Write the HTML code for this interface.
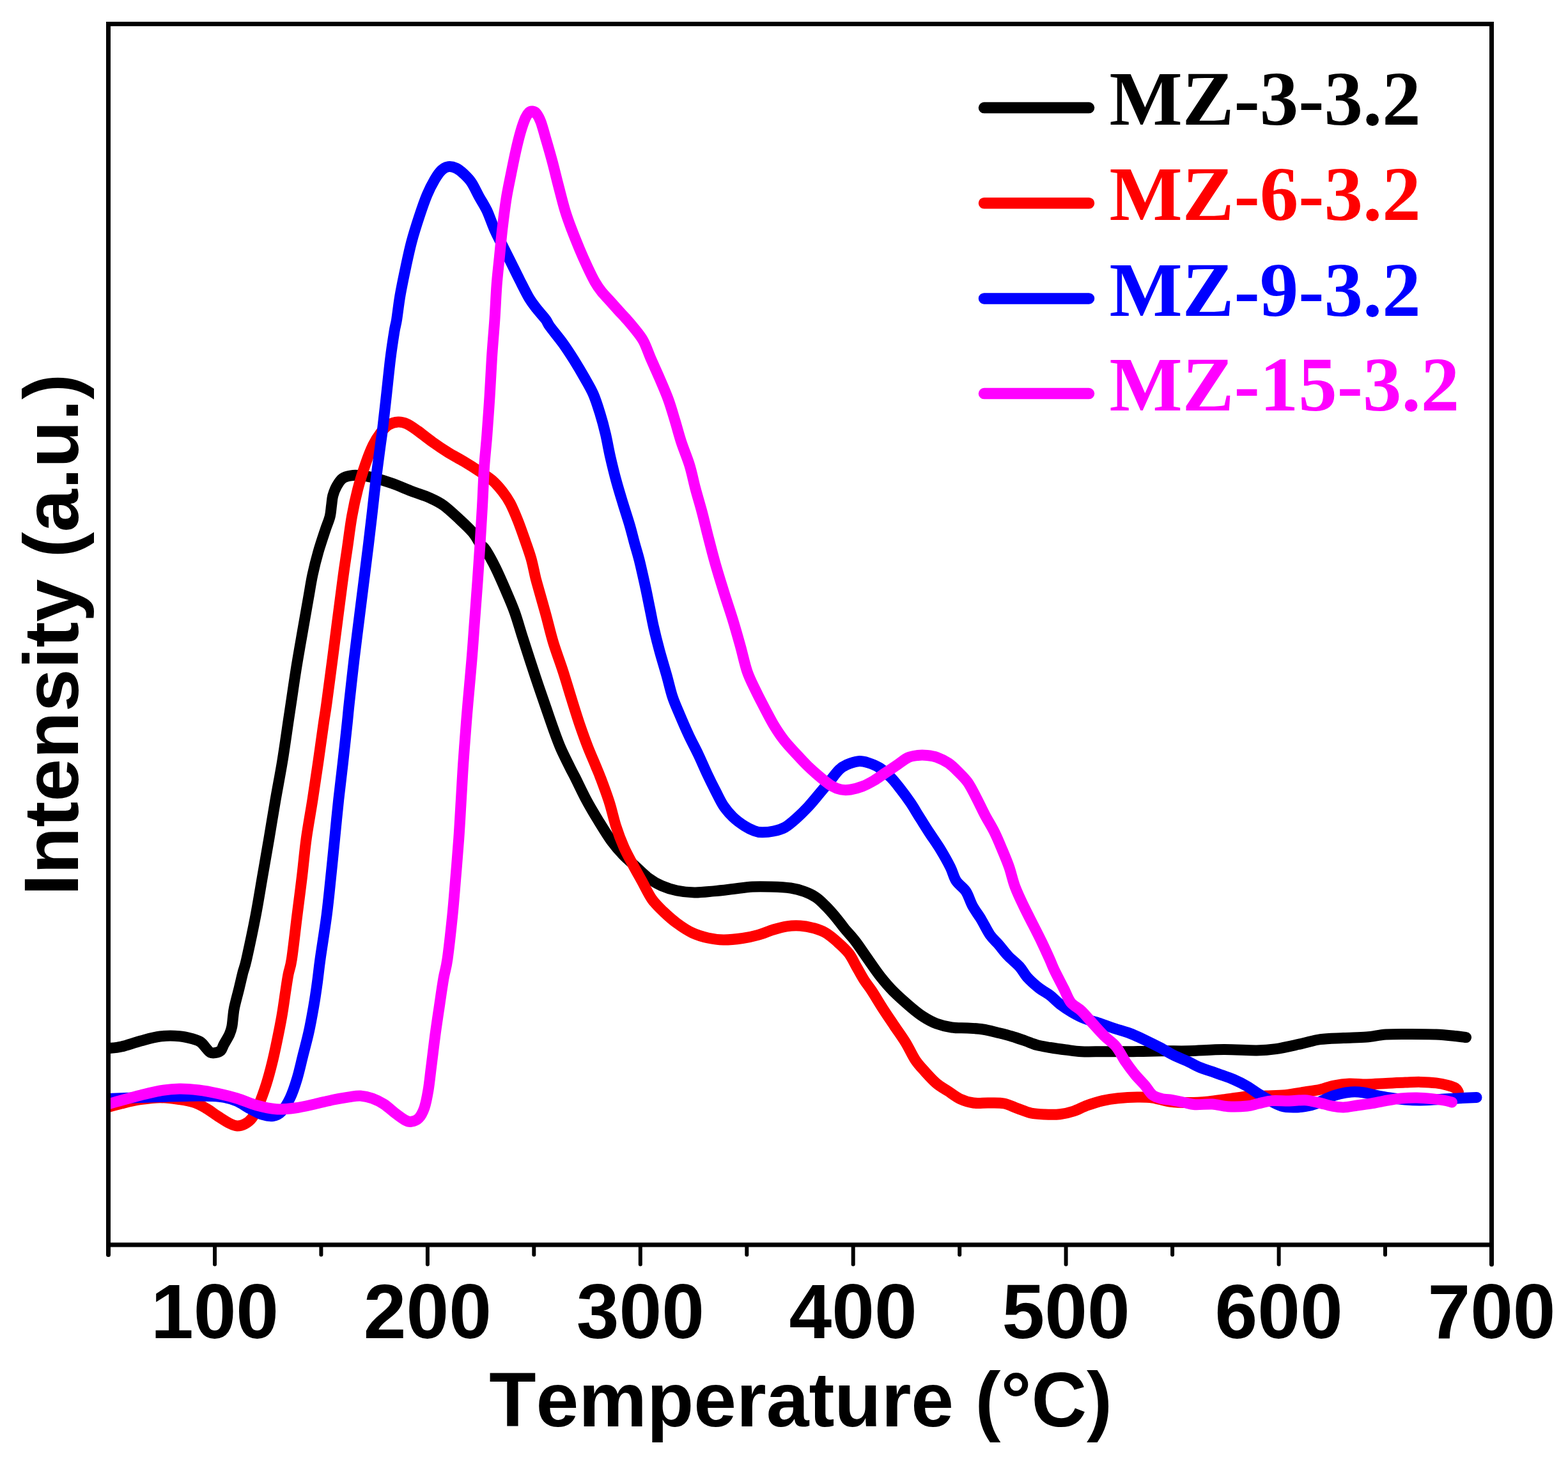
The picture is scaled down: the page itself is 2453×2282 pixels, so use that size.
<!DOCTYPE html>
<html lang="en">
<head>
<meta charset="utf-8">
<title>Intensity vs Temperature</title>
<style>
html,body{margin:0;padding:0;background:#fff;}
body{width:2453px;height:2282px;overflow:hidden;}
svg{display:block;}
.sans{font-family:"Liberation Sans",Arial,Helvetica,sans-serif;font-weight:bold;fill:#000;font-kerning:none;}
.serif{font-family:"Liberation Serif","Times New Roman",Times,serif;font-weight:bold;font-kerning:none;}
.curve{fill:none;stroke-width:17;stroke-linecap:round;stroke-linejoin:round;}
</style>
</head>
<body>
<svg width="2453" height="2282" viewBox="0 0 2453 2282">
<rect x="0" y="0" width="2453" height="2282" fill="#fff"/>
<defs><clipPath id="plot"><rect x="169.5" y="37.5" width="2164" height="1909.5"/></clipPath></defs>
<g class="curves" clip-path="url(#plot)">
<path class="curve" stroke="#000000" d="M169.0 1639.7C172.5 1639.2 181.4 1639.0 190.0 1637.0C198.6 1635.0 210.3 1630.7 220.4 1628.0C230.5 1625.3 240.4 1622.2 250.5 1621.0C260.6 1619.8 272.1 1620.0 280.7 1620.7C289.3 1621.4 296.3 1623.5 301.9 1625.0C307.4 1626.5 310.5 1627.5 314.0 1630.0C317.5 1632.5 320.5 1637.3 323.0 1640.0C325.5 1642.7 326.7 1644.9 329.0 1646.0C331.3 1647.1 333.8 1647.2 336.6 1646.7C339.4 1646.2 343.4 1645.1 345.6 1643.0C347.8 1640.9 347.8 1638.2 350.0 1634.0C352.2 1629.8 356.9 1622.4 359.0 1617.7C361.1 1613.0 361.9 1610.1 362.8 1605.6C363.7 1601.1 364.0 1595.5 364.6 1590.5C365.2 1585.5 365.1 1583.1 366.7 1575.5C368.3 1567.9 372.1 1554.1 374.3 1545.0C376.5 1535.9 378.1 1528.5 380.0 1521.0C381.9 1513.5 382.5 1514.8 385.8 1500.0C389.1 1485.2 395.9 1453.4 400.0 1432.0C404.1 1410.6 407.0 1391.8 410.5 1371.6C414.0 1351.4 417.6 1331.1 421.0 1311.0C424.4 1290.9 427.5 1271.1 431.0 1251.0C434.5 1230.9 438.5 1210.7 441.8 1190.5C445.1 1170.3 448.6 1145.1 450.8 1130.0C453.1 1114.9 453.2 1113.8 455.3 1100.0C457.4 1086.2 460.2 1065.9 463.2 1047.0C466.2 1028.1 470.3 1005.3 473.5 986.7C476.7 968.1 479.9 950.0 482.5 935.4C485.1 920.8 486.4 911.1 489.0 899.0C491.6 886.9 494.7 874.5 498.0 863.0C501.3 851.5 505.6 838.9 508.6 829.8C511.6 820.7 514.3 815.1 516.0 808.6C517.7 802.1 517.8 796.0 518.6 790.5C519.4 785.0 519.4 780.5 520.7 775.5C522.1 770.5 524.2 764.9 526.7 760.4C529.2 755.9 532.0 751.1 535.8 748.3C539.6 745.5 544.5 744.5 549.3 743.8C554.1 743.0 558.9 743.3 564.4 743.8C569.9 744.3 574.5 744.8 582.5 746.8C590.5 748.8 602.6 752.3 612.7 755.8C622.8 759.3 632.9 764.0 642.9 767.9C652.9 771.8 664.5 775.2 673.0 779.0C681.5 782.8 686.5 785.0 694.0 790.5C701.5 796.0 710.7 804.7 718.3 811.7C725.9 818.8 734.0 826.2 739.5 832.8C745.0 839.3 748.1 846.4 751.5 851.0C754.9 855.6 756.1 854.3 760.0 860.4C763.9 866.5 770.0 877.5 775.0 887.5C780.0 897.5 785.0 909.1 790.0 920.7C795.0 932.3 800.5 944.5 805.0 957.0C809.5 969.5 813.1 982.9 817.3 996.0C821.5 1009.1 825.9 1022.8 830.0 1035.4C834.1 1048.0 837.9 1059.5 842.0 1071.6C846.1 1083.7 850.5 1096.3 854.5 1107.9C858.5 1119.5 862.2 1130.5 866.0 1141.0C869.8 1151.5 873.2 1161.2 877.5 1171.0C881.8 1180.8 887.8 1192.4 891.5 1200.0C895.2 1207.6 895.6 1207.6 900.0 1216.4C904.4 1225.2 911.8 1241.0 918.0 1252.6C924.2 1264.2 931.0 1275.2 937.5 1285.8C944.0 1296.4 950.8 1307.5 957.0 1316.0C963.2 1324.5 968.7 1330.7 974.7 1337.0C980.7 1343.3 986.2 1347.7 992.8 1353.7C999.3 1359.7 1007.0 1367.7 1014.0 1373.0C1021.0 1378.3 1027.5 1382.1 1035.0 1385.4C1042.5 1388.7 1050.4 1391.2 1059.0 1393.0C1067.6 1394.8 1076.8 1395.8 1086.4 1396.0C1096.0 1396.2 1106.5 1394.8 1116.5 1393.9C1126.5 1393.0 1136.6 1391.7 1146.7 1390.5C1156.8 1389.3 1167.0 1387.6 1177.0 1387.0C1187.0 1386.4 1197.0 1386.7 1207.0 1387.0C1217.0 1387.3 1228.4 1387.8 1237.0 1389.0C1245.6 1390.2 1251.8 1392.1 1258.4 1394.5C1265.0 1396.9 1271.0 1399.8 1276.5 1403.5C1282.0 1407.2 1286.6 1412.0 1291.6 1417.0C1296.6 1422.0 1301.8 1427.9 1306.7 1433.7C1311.6 1439.5 1315.8 1445.6 1321.0 1452.0C1326.2 1458.4 1332.0 1464.2 1338.0 1472.0C1344.0 1479.8 1350.5 1489.8 1357.0 1499.0C1363.5 1508.2 1370.3 1518.5 1377.0 1527.0C1383.7 1535.5 1389.3 1542.2 1397.0 1550.0C1404.7 1557.8 1415.2 1567.0 1423.0 1573.7C1430.8 1580.4 1437.0 1585.5 1444.0 1590.0C1451.0 1594.5 1457.5 1598.2 1465.0 1601.0C1472.5 1603.8 1480.9 1605.8 1489.0 1607.0C1497.1 1608.2 1505.4 1607.5 1513.5 1608.0C1521.6 1608.5 1529.7 1608.8 1537.7 1610.0C1545.8 1611.2 1554.2 1613.7 1561.8 1615.5C1569.3 1617.3 1576.0 1618.9 1583.0 1621.0C1590.0 1623.1 1597.5 1625.8 1604.0 1628.0C1610.5 1630.2 1615.5 1632.8 1622.0 1634.5C1628.5 1636.2 1635.4 1637.2 1643.0 1638.5C1650.6 1639.8 1659.3 1641.0 1667.4 1642.0C1675.5 1643.0 1681.5 1644.2 1691.6 1644.7C1701.7 1645.2 1714.2 1644.7 1727.8 1644.7C1741.4 1644.7 1758.0 1644.9 1773.0 1644.7C1788.0 1644.5 1803.5 1644.0 1818.0 1643.8C1832.5 1643.6 1843.9 1644.2 1860.0 1643.8C1876.1 1643.4 1897.0 1641.7 1914.7 1641.6C1932.4 1641.5 1952.5 1643.2 1966.0 1643.0C1979.5 1642.8 1984.4 1642.4 1996.0 1640.7C2007.6 1639.0 2023.8 1635.1 2035.4 1632.6C2047.0 1630.1 2054.5 1627.1 2065.6 1625.6C2076.7 1624.1 2089.7 1624.1 2101.8 1623.5C2113.9 1622.9 2127.0 1622.9 2138.0 1622.0C2149.0 1621.1 2156.4 1618.8 2168.0 1618.0C2179.6 1617.2 2194.3 1617.5 2207.4 1617.5C2220.5 1617.5 2235.1 1617.5 2246.7 1618.0C2258.3 1618.5 2269.1 1619.7 2276.9 1620.5C2284.7 1621.3 2290.7 1622.2 2293.5 1622.6"/>
<path class="curve" stroke="#ff0000" d="M169.0 1731.8C172.5 1730.8 181.5 1728.0 190.0 1726.0C198.5 1724.0 209.9 1721.2 220.0 1719.7C230.1 1718.2 240.4 1716.7 250.5 1716.7C260.6 1716.7 271.6 1718.4 280.7 1719.7C289.8 1721.0 297.8 1722.4 304.9 1724.8C311.9 1727.2 317.0 1730.4 323.0 1733.9C329.0 1737.4 335.0 1742.2 341.0 1746.0C347.0 1749.8 354.0 1754.5 359.0 1757.0C364.0 1759.5 367.0 1760.8 371.0 1761.0C375.0 1761.2 379.2 1760.0 383.0 1758.0C386.8 1756.0 390.4 1753.8 394.0 1749.0C397.6 1744.2 400.8 1737.8 404.5 1729.0C408.2 1720.2 413.0 1707.0 416.5 1696.0C420.0 1685.0 422.9 1674.0 425.6 1663.0C428.4 1652.0 430.5 1641.9 433.0 1629.8C435.5 1617.7 438.4 1603.6 440.7 1590.5C443.0 1577.4 445.0 1562.1 446.7 1551.0C448.4 1539.9 449.4 1532.5 451.0 1524.0C452.6 1515.5 454.1 1515.3 456.4 1500.0C458.7 1484.7 462.1 1453.4 464.8 1432.0C467.5 1410.6 470.0 1391.8 472.4 1371.6C474.8 1351.4 476.5 1331.1 479.3 1311.0C482.1 1290.9 485.9 1271.1 489.0 1251.0C492.1 1230.9 495.1 1210.7 498.0 1190.5C500.9 1170.3 504.3 1145.1 506.5 1130.0C508.7 1114.9 508.8 1116.3 511.0 1100.0C513.2 1083.7 517.2 1053.4 520.0 1032.0C522.8 1010.6 525.4 990.3 527.8 971.6C530.2 952.9 532.7 933.6 534.5 920.0C536.3 906.4 537.0 900.7 538.5 890.0C540.0 879.3 541.5 869.7 543.5 856.0C545.5 842.3 547.8 822.9 550.5 807.8C553.2 792.7 556.1 779.2 559.6 765.6C563.1 752.0 567.7 737.6 571.7 726.0C575.7 714.4 579.7 704.2 583.7 696.0C587.7 687.8 591.8 681.9 595.8 676.6C599.8 671.4 603.4 667.3 607.9 664.5C612.4 661.7 618.2 660.2 623.0 660.0C627.8 659.8 631.6 660.8 636.6 663.0C641.6 665.2 646.3 668.7 653.0 673.5C659.7 678.3 668.9 685.9 677.0 691.6C685.1 697.4 693.4 703.0 701.5 708.0C709.6 713.0 717.6 717.0 725.6 721.8C733.6 726.6 742.2 732.0 749.7 737.0C757.2 742.0 764.9 746.7 770.9 752.0C776.9 757.3 781.5 762.8 786.0 768.6C790.5 774.4 794.0 779.2 798.0 786.7C802.0 794.2 806.0 803.9 810.0 813.9C814.0 823.9 818.5 837.0 822.0 847.0C825.5 857.0 828.5 865.2 831.0 874.0C833.5 882.8 835.5 893.7 837.0 900.0C838.5 906.3 837.2 901.7 840.0 911.7C842.8 921.7 849.3 944.5 853.6 960.0C857.9 975.5 861.0 989.9 865.6 1005.0C870.2 1020.1 876.3 1035.9 881.0 1050.5C885.7 1065.1 889.6 1078.7 894.0 1092.8C898.4 1106.9 903.2 1122.5 907.5 1135.0C911.8 1147.5 915.4 1157.5 919.5 1168.0C923.6 1178.5 928.7 1189.9 932.0 1198.0C935.3 1206.1 935.9 1206.8 939.5 1216.4C943.1 1226.0 949.5 1243.0 953.5 1255.6C957.5 1268.2 959.8 1280.3 963.5 1291.9C967.2 1303.5 971.6 1315.0 976.0 1325.0C980.4 1335.0 985.0 1342.9 989.8 1352.0C994.6 1361.1 999.9 1370.3 1004.9 1379.4C1009.9 1388.5 1014.5 1398.7 1020.0 1406.5C1025.5 1414.3 1031.5 1419.8 1038.0 1426.0C1044.5 1432.2 1051.5 1438.5 1059.0 1444.0C1066.5 1449.5 1074.9 1455.2 1083.0 1459.0C1091.1 1462.8 1099.4 1465.2 1107.5 1467.0C1115.6 1468.8 1122.5 1469.9 1131.6 1470.0C1140.6 1470.1 1152.7 1468.8 1161.8 1467.5C1170.9 1466.2 1178.0 1464.7 1186.0 1462.4C1194.0 1460.2 1202.5 1456.3 1210.0 1454.0C1217.5 1451.7 1224.0 1449.8 1231.0 1448.8C1238.0 1447.8 1244.9 1447.5 1252.0 1448.0C1259.1 1448.5 1266.9 1450.0 1273.5 1451.8C1280.1 1453.6 1285.6 1455.5 1291.6 1459.0C1297.6 1462.5 1303.7 1467.7 1309.7 1473.0C1315.7 1478.3 1322.8 1484.5 1327.8 1491.0C1332.8 1497.5 1335.9 1505.0 1339.9 1512.0C1343.9 1519.0 1348.0 1526.7 1352.0 1533.0C1356.0 1539.3 1359.2 1542.7 1364.0 1550.0C1368.8 1557.3 1374.9 1567.8 1380.7 1576.8C1386.5 1585.8 1392.8 1595.0 1398.8 1604.0C1404.8 1613.0 1411.5 1622.0 1417.0 1631.0C1422.5 1640.0 1427.0 1650.5 1432.0 1658.0C1437.0 1665.5 1441.5 1669.9 1447.0 1676.0C1452.5 1682.1 1459.0 1689.4 1465.0 1694.5C1471.0 1699.6 1476.9 1702.5 1483.0 1706.5C1489.1 1710.5 1494.9 1715.5 1501.5 1718.6C1508.1 1721.7 1515.1 1723.9 1522.6 1725.0C1530.1 1726.1 1538.7 1724.8 1546.7 1725.0C1554.8 1725.2 1563.4 1724.5 1570.9 1726.0C1578.5 1727.5 1585.0 1731.2 1592.0 1733.7C1599.0 1736.2 1606.0 1739.5 1613.0 1741.0C1620.0 1742.5 1626.4 1742.7 1634.0 1743.0C1641.6 1743.3 1650.8 1743.5 1658.4 1742.7C1666.0 1741.9 1672.5 1740.3 1679.5 1738.0C1686.5 1735.7 1693.0 1731.7 1700.6 1729.0C1708.1 1726.3 1716.7 1723.5 1724.8 1721.6C1732.9 1719.7 1740.0 1718.6 1749.0 1717.7C1758.0 1716.8 1770.0 1716.1 1779.0 1716.0C1788.0 1715.9 1794.5 1715.8 1803.0 1717.0C1811.5 1718.2 1820.5 1721.7 1830.0 1723.0C1839.5 1724.3 1849.9 1724.6 1860.0 1724.6C1870.1 1724.6 1880.4 1723.9 1890.5 1723.0C1900.6 1722.1 1910.6 1720.3 1920.7 1719.0C1930.8 1717.7 1941.0 1715.8 1951.0 1715.0C1961.0 1714.2 1971.0 1714.4 1981.0 1714.0C1991.0 1713.6 2000.9 1713.6 2011.0 1712.6C2021.1 1711.6 2032.4 1709.4 2041.5 1708.0C2050.6 1706.6 2058.1 1705.7 2065.6 1704.0C2073.1 1702.3 2079.1 1699.5 2086.7 1698.0C2094.2 1696.5 2102.3 1695.3 2110.9 1695.0C2119.5 1694.7 2128.5 1696.1 2138.0 1696.0C2147.5 1695.9 2157.9 1695.0 2168.0 1694.5C2178.1 1694.0 2189.3 1693.3 2198.4 1693.0C2207.5 1692.7 2214.4 1692.2 2222.5 1692.4C2230.6 1692.6 2239.6 1693.1 2246.7 1693.9C2253.8 1694.8 2259.8 1696.2 2264.8 1697.5C2269.8 1698.8 2274.1 1700.2 2276.9 1702.0C2279.7 1703.8 2280.7 1707.0 2281.4 1708.0"/>
<path class="curve" stroke="#0000ff" d="M169.0 1718.5C175.8 1718.2 196.5 1717.5 210.0 1717.0C223.5 1716.5 236.7 1715.9 250.0 1715.5C263.3 1715.1 279.8 1714.8 290.0 1714.5C300.2 1714.2 304.2 1714.0 311.0 1714.0C317.8 1714.0 324.3 1714.1 331.0 1714.5C337.7 1714.9 344.3 1715.2 351.0 1716.5C357.7 1717.8 364.3 1719.6 371.0 1722.5C377.7 1725.4 384.3 1730.5 391.0 1734.0C397.7 1737.5 405.0 1741.6 411.0 1743.5C417.0 1745.4 422.2 1746.2 427.0 1745.5C431.8 1744.8 435.5 1743.8 440.0 1739.0C444.5 1734.2 449.9 1725.7 454.0 1717.0C458.1 1708.3 461.5 1698.0 464.8 1687.0C468.1 1676.0 470.9 1663.0 473.9 1651.0C476.9 1639.0 480.2 1627.3 483.0 1614.7C485.8 1602.1 488.2 1588.6 490.5 1575.5C492.8 1562.4 494.8 1548.6 496.5 1536.0C498.2 1523.4 498.6 1517.3 501.0 1500.0C503.4 1482.7 508.2 1453.4 511.0 1432.0C513.8 1410.6 515.5 1391.8 517.6 1371.6C519.7 1351.4 521.7 1331.1 523.7 1311.0C525.7 1290.9 527.5 1271.1 529.7 1251.0C531.9 1230.9 534.4 1210.7 536.7 1190.5C539.0 1170.3 541.7 1145.1 543.3 1130.0C544.9 1114.9 544.5 1116.3 546.3 1100.0C548.1 1083.7 551.4 1053.4 553.9 1032.0C556.4 1010.6 558.9 991.8 561.4 971.6C563.9 951.4 566.5 931.1 569.0 911.0C571.5 890.9 574.2 869.6 576.5 851.0C578.8 832.4 580.6 816.3 582.5 799.6C584.4 782.9 586.0 767.6 588.0 751.0C590.0 734.4 592.8 713.7 594.6 700.0C596.4 686.3 597.1 683.2 598.8 669.0C600.5 654.8 602.9 632.9 604.9 614.7C606.9 596.5 608.9 576.1 610.9 560.0C612.9 543.9 615.4 528.0 617.0 518.0C618.6 508.0 619.1 509.3 620.6 500.0C622.1 490.7 623.6 475.8 626.0 462.0C628.4 448.2 632.0 431.1 635.0 417.0C638.0 402.9 640.5 390.8 644.0 377.7C647.5 364.6 652.0 350.5 656.0 338.4C660.0 326.3 664.0 314.6 668.0 305.0C672.0 295.4 676.2 287.5 680.0 281.0C683.8 274.5 687.4 269.4 691.0 266.0C694.6 262.6 697.8 261.1 701.5 260.6C705.2 260.1 709.5 261.1 713.5 263.0C717.5 264.9 721.6 268.2 725.6 272.0C729.6 275.8 733.7 279.6 737.7 285.6C741.7 291.6 745.7 300.7 749.7 308.0C753.7 315.3 757.8 320.8 761.8 329.4C765.8 338.0 770.1 351.1 773.9 359.6C777.7 368.2 780.4 372.7 784.4 380.7C788.4 388.7 793.2 398.2 798.0 407.8C802.8 417.4 808.0 428.2 813.0 438.0C818.0 447.8 823.5 459.1 828.0 466.7C832.5 474.2 835.7 477.8 840.0 483.3C844.3 488.9 850.6 495.5 853.9 500.0C857.2 504.5 855.5 504.1 860.0 510.4C864.5 516.6 874.5 528.5 881.0 537.5C887.5 546.5 893.5 556.0 899.0 564.7C904.5 573.5 909.2 581.5 914.0 590.0C918.8 598.5 923.9 606.7 928.0 616.0C932.1 625.3 935.2 635.4 938.5 646.0C941.8 656.6 944.8 667.8 947.5 679.4C950.2 691.0 952.2 703.5 955.0 715.6C957.8 727.7 960.7 739.7 964.0 751.8C967.3 763.9 971.2 776.5 974.7 788.0C978.2 799.5 982.0 810.7 985.0 821.0C988.0 831.3 990.3 840.9 992.8 850.0C995.3 859.1 997.3 864.7 1000.0 875.5C1002.7 886.3 1006.2 902.1 1009.0 914.7C1011.8 927.3 1014.2 940.0 1016.5 951.0C1018.8 962.0 1020.1 970.0 1022.6 981.0C1025.1 992.0 1028.2 1004.4 1031.6 1017.0C1035.0 1029.6 1039.6 1044.4 1043.0 1056.5C1046.4 1068.6 1048.7 1079.6 1052.0 1089.7C1055.3 1099.8 1058.8 1107.0 1063.0 1117.0C1067.2 1127.0 1072.6 1139.5 1077.5 1150.0C1082.4 1160.5 1087.7 1170.0 1092.4 1180.0C1097.2 1190.0 1101.5 1200.4 1106.0 1210.0C1110.5 1219.6 1115.3 1229.2 1119.6 1237.5C1123.9 1245.8 1127.1 1253.2 1131.6 1260.0C1136.1 1266.8 1141.2 1272.7 1146.7 1278.0C1152.2 1283.3 1159.2 1288.3 1164.8 1291.9C1170.3 1295.5 1175.5 1297.8 1180.0 1299.4C1184.5 1301.1 1187.0 1301.7 1192.0 1301.8C1197.0 1301.9 1204.0 1301.3 1210.0 1300.0C1216.0 1298.7 1222.0 1297.4 1228.0 1294.0C1234.0 1290.6 1239.9 1285.2 1246.0 1279.8C1252.1 1274.4 1258.3 1268.2 1264.4 1261.7C1270.5 1255.2 1277.0 1247.0 1282.5 1240.5C1288.0 1234.0 1292.6 1228.5 1297.6 1222.4C1302.6 1216.3 1308.2 1208.4 1312.7 1204.0C1317.2 1199.6 1319.8 1198.2 1324.8 1196.0C1329.8 1193.8 1337.4 1191.2 1342.9 1190.7C1348.4 1190.2 1352.5 1191.3 1358.0 1193.0C1363.5 1194.7 1370.0 1197.1 1376.0 1201.0C1382.0 1204.9 1388.5 1210.8 1394.0 1216.4C1399.5 1222.0 1403.9 1228.0 1409.0 1234.5C1414.1 1241.0 1419.3 1248.0 1424.4 1255.6C1429.5 1263.1 1434.6 1272.1 1439.5 1279.8C1444.4 1287.5 1448.2 1293.7 1453.6 1302.0C1459.0 1310.3 1466.2 1320.3 1471.7 1329.4C1477.2 1338.5 1482.8 1348.5 1486.8 1356.5C1490.8 1364.5 1491.8 1371.5 1495.8 1377.7C1499.8 1384.0 1506.7 1387.5 1511.0 1394.0C1515.3 1400.5 1517.5 1409.7 1521.5 1417.0C1525.5 1424.3 1530.5 1430.5 1535.0 1438.0C1539.5 1445.5 1544.1 1455.5 1548.6 1462.0C1553.1 1468.5 1557.3 1471.5 1562.0 1477.0C1566.7 1482.5 1571.5 1489.2 1577.0 1495.0C1582.5 1500.8 1590.0 1506.4 1595.0 1512.0C1600.0 1517.6 1602.0 1523.0 1607.0 1528.5C1612.0 1534.0 1619.0 1540.2 1625.0 1545.0C1631.0 1549.8 1637.4 1552.7 1643.0 1557.0C1648.6 1561.3 1652.8 1566.4 1658.4 1570.7C1664.0 1575.0 1670.0 1579.0 1676.5 1582.8C1683.0 1586.6 1690.0 1590.4 1697.6 1593.4C1705.1 1596.4 1714.2 1598.5 1721.8 1601.0C1729.4 1603.5 1735.5 1606.0 1743.0 1608.5C1750.5 1611.0 1759.0 1613.0 1767.0 1616.0C1775.0 1619.0 1783.0 1622.8 1791.0 1626.6C1799.0 1630.4 1807.4 1634.6 1815.0 1638.6C1822.6 1642.6 1829.0 1647.0 1836.5 1650.7C1844.0 1654.4 1853.5 1658.0 1860.0 1661.0C1866.5 1664.0 1867.9 1665.7 1875.5 1668.8C1883.1 1671.9 1896.5 1676.1 1905.6 1679.4C1914.6 1682.7 1922.2 1685.1 1929.8 1688.4C1937.4 1691.7 1944.5 1695.2 1951.0 1699.0C1957.5 1702.8 1963.0 1707.2 1969.0 1711.0C1975.0 1714.8 1981.0 1718.4 1987.0 1721.6C1993.0 1724.8 1999.0 1728.3 2005.0 1730.0C2011.0 1731.7 2016.9 1731.9 2023.0 1732.0C2029.1 1732.1 2035.4 1731.7 2041.5 1730.7C2047.6 1729.7 2053.6 1728.3 2059.6 1726.0C2065.6 1723.7 2071.7 1719.5 2077.7 1717.0C2083.7 1714.5 2089.8 1712.5 2095.8 1711.0C2101.8 1709.5 2107.9 1708.4 2113.9 1708.0C2119.9 1707.6 2126.0 1707.9 2132.0 1708.7C2138.0 1709.5 2143.0 1711.2 2150.0 1712.6C2157.0 1714.0 2165.9 1715.8 2174.0 1717.0C2182.1 1718.2 2190.3 1719.3 2198.4 1720.0C2206.5 1720.7 2213.4 1721.1 2222.5 1721.0C2231.6 1720.9 2242.6 1720.0 2252.7 1719.5C2262.8 1719.0 2273.4 1718.2 2283.0 1717.7C2292.6 1717.2 2305.5 1716.7 2310.0 1716.5"/>
<path class="curve" stroke="#ff00ff" d="M169.0 1727.0C172.5 1726.0 181.5 1723.3 190.0 1721.0C198.5 1718.7 209.9 1715.5 220.0 1713.0C230.1 1710.5 240.4 1707.7 250.5 1706.0C260.6 1704.3 270.6 1703.2 280.7 1703.0C290.8 1702.8 300.9 1703.8 311.0 1705.0C321.1 1706.2 331.0 1708.2 341.0 1710.4C351.0 1712.6 360.9 1714.9 371.0 1718.0C381.1 1721.1 391.4 1726.0 401.5 1728.8C411.6 1731.6 421.6 1734.1 431.6 1734.8C441.7 1735.5 451.7 1734.3 461.8 1733.0C471.9 1731.7 482.0 1729.2 492.0 1727.0C502.0 1724.8 513.0 1721.9 522.0 1720.0C531.0 1718.1 539.0 1716.8 546.0 1715.8C553.0 1714.8 557.9 1713.6 564.0 1714.0C570.1 1714.4 576.4 1715.8 582.5 1718.0C588.6 1720.2 594.6 1723.1 600.6 1727.0C606.6 1730.9 613.3 1737.3 618.8 1741.5C624.3 1745.7 629.8 1749.8 633.8 1752.0C637.8 1754.2 639.5 1754.9 643.0 1754.4C646.5 1753.9 651.5 1752.7 655.0 1749.0C658.5 1745.3 661.5 1739.7 664.0 1732.4C666.5 1725.1 668.2 1715.6 670.0 1705.0C671.8 1694.4 672.8 1683.0 674.6 1669.0C676.4 1655.0 678.4 1637.3 680.6 1620.7C682.8 1604.1 685.8 1584.5 688.0 1569.4C690.2 1554.3 692.0 1541.6 694.0 1530.0C696.0 1518.4 697.7 1516.3 700.0 1500.0C702.3 1483.7 705.6 1453.4 707.8 1432.0C710.0 1410.6 711.3 1391.8 713.0 1371.6C714.7 1351.4 716.4 1331.1 717.8 1311.0C719.2 1290.9 720.2 1271.1 721.4 1251.0C722.6 1230.9 723.6 1210.7 725.0 1190.5C726.4 1170.3 728.3 1145.1 729.5 1130.0C730.7 1114.9 730.6 1116.3 732.0 1100.0C733.4 1083.7 736.2 1053.4 738.0 1032.0C739.8 1010.6 741.0 991.8 742.5 971.6C744.0 951.4 745.6 931.1 747.0 911.0C748.4 890.9 749.7 871.1 751.0 851.0C752.3 830.9 753.5 810.7 754.6 790.5C755.7 770.3 756.4 748.2 757.6 730.0C758.8 711.8 760.4 699.2 761.8 681.0C763.2 662.8 764.7 640.9 766.0 620.7C767.3 600.5 768.1 580.1 769.4 560.0C770.7 539.9 772.6 518.8 773.9 500.0C775.2 481.2 775.8 463.4 777.0 447.0C778.2 430.6 779.9 416.9 781.4 401.8C782.9 386.7 784.2 371.6 786.0 356.5C787.8 341.4 789.8 325.1 792.0 311.0C794.2 296.9 797.0 284.5 799.5 272.0C802.0 259.5 804.5 246.9 807.0 235.8C809.5 224.7 812.1 214.2 814.6 205.6C817.1 197.0 819.8 189.5 822.0 184.5C824.2 179.5 826.2 177.2 828.0 175.5C829.8 173.8 830.9 173.8 832.7 174.0C834.5 174.2 836.6 174.2 838.8 177.0C841.0 179.8 843.3 183.2 846.0 190.5C848.7 197.8 851.9 210.1 855.0 220.7C858.1 231.3 861.3 242.4 864.4 254.0C867.5 265.6 870.2 277.4 873.5 290.0C876.8 302.6 880.5 317.8 884.0 329.4C887.5 341.0 890.8 349.6 894.6 359.6C898.4 369.7 902.7 380.1 906.7 389.7C910.7 399.3 914.8 408.4 918.8 417.0C922.8 425.6 927.1 434.5 930.8 441.0C934.5 447.5 937.2 451.2 941.0 456.0C944.8 460.8 949.3 465.2 953.6 470.0C957.9 474.8 962.8 480.3 967.0 485.0C971.2 489.7 975.0 493.5 979.0 498.0C983.0 502.5 986.4 506.2 991.0 512.0C995.6 517.8 1001.8 524.7 1006.4 533.0C1011.0 541.3 1014.2 551.9 1018.5 561.7C1022.8 571.5 1027.5 581.5 1032.0 592.0C1036.5 602.5 1041.6 614.0 1045.6 625.0C1049.6 636.0 1052.6 646.8 1056.0 658.0C1059.4 669.2 1062.2 680.4 1066.0 692.0C1069.8 703.6 1075.1 715.7 1078.8 727.7C1082.5 739.7 1084.7 752.0 1087.9 764.0C1091.1 776.0 1094.8 788.0 1098.0 800.0C1101.2 812.0 1103.5 822.4 1107.0 836.0C1110.5 849.6 1114.7 866.4 1119.0 881.5C1123.3 896.6 1128.2 912.2 1132.7 926.8C1137.2 941.4 1142.0 955.0 1146.3 969.0C1150.6 983.0 1154.6 997.4 1158.4 1011.0C1162.2 1024.6 1165.0 1038.9 1169.0 1050.5C1173.0 1062.1 1177.7 1070.6 1182.5 1080.7C1187.3 1090.8 1193.1 1101.7 1198.0 1110.9C1202.9 1120.1 1206.9 1128.2 1211.7 1136.0C1216.5 1143.8 1221.3 1151.0 1226.8 1158.0C1232.3 1165.0 1238.6 1171.6 1244.5 1178.0C1250.4 1184.4 1255.7 1190.3 1262.0 1196.5C1268.3 1202.7 1276.1 1209.6 1282.5 1215.0C1288.9 1220.4 1295.1 1225.7 1300.6 1229.0C1306.1 1232.3 1310.7 1234.0 1315.7 1235.0C1320.7 1236.0 1325.2 1235.8 1330.8 1235.0C1336.3 1234.2 1343.0 1232.3 1349.0 1230.0C1355.0 1227.7 1361.0 1224.5 1367.0 1221.0C1373.0 1217.5 1379.0 1212.9 1385.0 1208.9C1391.0 1204.9 1397.1 1200.8 1403.0 1196.8C1408.9 1192.8 1415.0 1187.5 1420.4 1185.0C1425.8 1182.5 1430.5 1182.1 1435.5 1181.5C1440.5 1180.9 1445.5 1181.0 1450.5 1181.5C1455.5 1182.0 1460.1 1182.5 1465.6 1184.5C1471.1 1186.5 1478.2 1189.8 1483.7 1193.6C1489.2 1197.3 1493.8 1202.0 1498.8 1207.0C1503.8 1212.0 1509.2 1216.9 1514.0 1223.7C1518.8 1230.5 1523.0 1239.5 1527.5 1248.0C1532.0 1256.5 1536.2 1266.0 1541.0 1275.0C1545.8 1284.0 1551.5 1292.9 1556.0 1302.0C1560.5 1311.1 1564.2 1320.3 1568.0 1329.4C1571.8 1338.5 1575.5 1347.0 1578.8 1356.5C1582.1 1366.0 1584.1 1376.6 1587.9 1386.7C1591.7 1396.8 1596.6 1407.0 1601.4 1417.0C1606.2 1427.0 1611.7 1437.5 1616.5 1447.0C1621.3 1456.5 1625.8 1465.2 1630.0 1474.0C1634.2 1482.8 1638.8 1492.9 1642.0 1500.0C1645.2 1507.1 1645.3 1508.6 1649.0 1516.4C1652.7 1524.2 1660.1 1538.0 1664.4 1546.6C1668.7 1555.1 1670.5 1562.0 1675.0 1567.7C1679.5 1573.4 1685.8 1575.5 1691.6 1581.0C1697.4 1586.5 1703.7 1594.4 1709.7 1601.0C1715.7 1607.6 1721.8 1614.5 1727.8 1620.5C1733.8 1626.5 1740.5 1630.2 1746.0 1637.0C1751.5 1643.8 1756.0 1653.7 1761.0 1661.0C1766.0 1668.3 1771.0 1674.9 1776.0 1681.0C1781.0 1687.1 1786.5 1692.2 1791.0 1697.5C1795.5 1702.8 1798.5 1709.1 1803.0 1712.6C1807.5 1716.1 1813.5 1717.4 1818.0 1718.6C1822.5 1719.8 1824.5 1719.1 1830.0 1720.0C1835.5 1720.9 1844.4 1722.7 1851.0 1724.0C1857.6 1725.3 1861.8 1727.2 1869.4 1727.7C1877.0 1728.2 1888.0 1726.5 1896.6 1727.0C1905.1 1727.5 1911.6 1730.2 1920.7 1730.7C1929.8 1731.2 1943.0 1730.8 1951.0 1730.0C1959.0 1729.2 1962.5 1727.4 1969.0 1726.0C1975.5 1724.6 1982.0 1722.3 1990.0 1721.6C1998.0 1720.9 2008.4 1722.2 2017.0 1722.0C2025.6 1721.8 2033.9 1720.3 2041.5 1720.7C2049.1 1721.1 2055.6 1723.0 2062.6 1724.6C2069.6 1726.1 2077.2 1728.8 2083.7 1730.0C2090.2 1731.2 2095.2 1732.2 2101.8 1732.0C2108.4 1731.8 2115.5 1730.1 2123.0 1729.0C2130.5 1727.9 2139.0 1726.9 2147.0 1725.6C2155.0 1724.3 2163.5 1722.3 2171.0 1721.0C2178.5 1719.7 2184.4 1718.7 2192.0 1718.0C2199.6 1717.3 2208.4 1716.9 2216.5 1717.0C2224.6 1717.1 2233.5 1717.9 2240.6 1718.6C2247.7 1719.3 2253.7 1720.1 2258.8 1721.0C2263.9 1721.9 2269.3 1723.5 2271.4 1724.0"/>
</g>
<g class="axes" stroke="#000" fill="none">
<rect x="169.5" y="37.5" width="2164" height="1909.5" stroke-width="7"/>
<line x1="169.5" y1="1947" x2="169.5" y2="1962.5" stroke-width="7" stroke-linecap="round"/>
<line x1="336.0" y1="1947" x2="336.0" y2="1977.5" stroke-width="6" stroke-linecap="round"/>
<line x1="502.4" y1="1947" x2="502.4" y2="1962.5" stroke-width="6" stroke-linecap="round"/>
<line x1="668.9" y1="1947" x2="668.9" y2="1977.5" stroke-width="6" stroke-linecap="round"/>
<line x1="835.3" y1="1947" x2="835.3" y2="1962.5" stroke-width="6" stroke-linecap="round"/>
<line x1="1001.8" y1="1947" x2="1001.8" y2="1977.5" stroke-width="6" stroke-linecap="round"/>
<line x1="1168.3" y1="1947" x2="1168.3" y2="1962.5" stroke-width="6" stroke-linecap="round"/>
<line x1="1334.7" y1="1947" x2="1334.7" y2="1977.5" stroke-width="6" stroke-linecap="round"/>
<line x1="1501.2" y1="1947" x2="1501.2" y2="1962.5" stroke-width="6" stroke-linecap="round"/>
<line x1="1667.6" y1="1947" x2="1667.6" y2="1977.5" stroke-width="6" stroke-linecap="round"/>
<line x1="1834.1" y1="1947" x2="1834.1" y2="1962.5" stroke-width="6" stroke-linecap="round"/>
<line x1="2000.6" y1="1947" x2="2000.6" y2="1977.5" stroke-width="6" stroke-linecap="round"/>
<line x1="2167.0" y1="1947" x2="2167.0" y2="1962.5" stroke-width="6" stroke-linecap="round"/>
<line x1="2333.5" y1="1947" x2="2333.5" y2="1977.5" stroke-width="7" stroke-linecap="round"/>
</g>
<g class="sans" font-size="120" text-anchor="middle">
<text transform="translate(336.0 2093.0) scale(1 1.0)">100</text>
<text transform="translate(668.9 2093.0) scale(1 1.0)">200</text>
<text transform="translate(1001.8 2093.0) scale(1 1.0)">300</text>
<text transform="translate(1334.7 2093.0) scale(1 1.0)">400</text>
<text transform="translate(1667.6 2093.0) scale(1 1.0)">500</text>
<text transform="translate(2000.6 2093.0) scale(1 1.0)">600</text>
<text transform="translate(2333.5 2093.0) scale(1 1.0)">700</text>
</g>
<text class="sans" font-size="120" text-anchor="middle" transform="translate(1252.6 2230.5) scale(1 1.0)">Temperature (°C)</text>
<text class="sans" font-size="120.4" text-anchor="middle" transform="translate(122 992.7) rotate(-90) scale(1 1.0)">Intensity (a.u.)</text>
<g class="legend">
<line x1="1539.5" y1="168.6" x2="1703.5" y2="168.6" stroke="#000000" stroke-width="17.5" stroke-linecap="round"/>
<text class="serif" font-size="121" fill="#000000" transform="translate(1735.5 195.2) scale(1 1.0)">MZ-3-3.2</text>
<line x1="1539.5" y1="317.7" x2="1703.5" y2="317.7" stroke="#ff0000" stroke-width="17.5" stroke-linecap="round"/>
<text class="serif" font-size="121" fill="#ff0000" transform="translate(1735.5 344.3) scale(1 1.0)">MZ-6-3.2</text>
<line x1="1539.5" y1="466.9" x2="1703.5" y2="466.9" stroke="#0000ff" stroke-width="17.5" stroke-linecap="round"/>
<text class="serif" font-size="121" fill="#0000ff" transform="translate(1735.5 493.5) scale(1 1.0)">MZ-9-3.2</text>
<line x1="1539.5" y1="615.6" x2="1703.5" y2="615.6" stroke="#ff00ff" stroke-width="17.5" stroke-linecap="round"/>
<text class="serif" font-size="121" fill="#ff00ff" transform="translate(1735.5 642.2) scale(1 1.0)">MZ-15-3.2</text>
</g>
</svg>
</body>
</html>
